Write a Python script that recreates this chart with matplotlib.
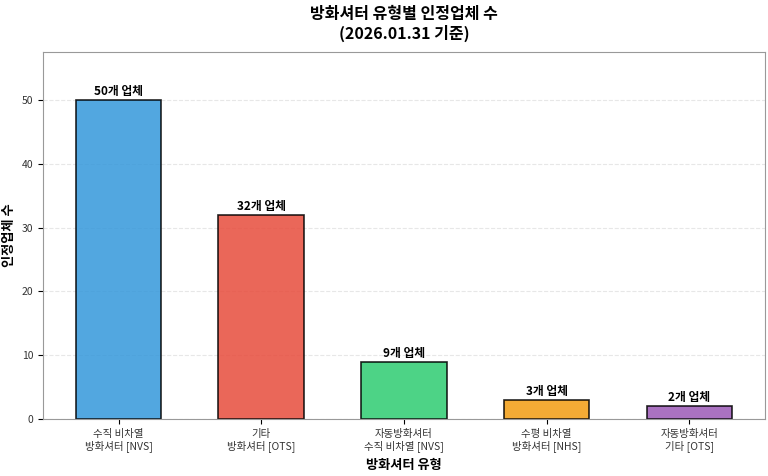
import matplotlib
matplotlib.use("Agg")
import matplotlib.pyplot as plt
import numpy as np

plt.rcParams['font.family'] = ['Noto Sans CJK KR', 'DejaVu Sans']

# data
categories = ['수직 비차열\n방화셔터 [NVS]', '기타\n방화셔터 [OTS]', '자동방화셔터\n수직 비차열 [NVS]',
              '수평 비차열\n방화셔터 [NHS]', '자동방화셔터\n기타 [OTS]']
counts = [50, 32, 9, 3, 2]
colors = ['#3498db', '#e74c3c', '#2ecc71', '#f39c12', '#9b59b6']

fig, ax = plt.subplots(figsize=(7.68, 4.76), dpi=100)
x = np.arange(len(categories))
bars = ax.bar(x, counts, width=0.6, color=colors, alpha=0.85, edgecolor='black', linewidth=1.2)

for b, c in zip(bars, counts):
    ax.text(b.get_x() + b.get_width() / 2, b.get_height() + 0.3, f'{c}개 업체',
            ha='center', va='bottom', fontsize=8.5, fontweight='bold')

ax.set_xticks(x)
ax.set_xticklabels(categories, fontsize=7.5, color='#333333')
ax.tick_params(axis='y', labelsize=7.5, labelcolor='#333333')
ax.set_ylim(0, max(counts) * 1.15)
ax.set_xlabel('방화셔터 유형', fontsize=9.5, fontweight='bold')
ax.set_ylabel('인정업체 수', fontsize=9.5, fontweight='bold')
ax.set_title('방화셔터 유형별 인정업체 수\n(2026.01.31 기준)', fontsize=11.5, fontweight='bold', pad=10)
ax.grid(axis='y', linestyle='--', alpha=0.3)
ax.set_axisbelow(True)
for s in ax.spines.values():
    s.set_color('#999999')

fig.subplots_adjust(left=0.056, right=0.996, top=0.89, bottom=0.12)
fig.savefig('out.png', dpi=100)
